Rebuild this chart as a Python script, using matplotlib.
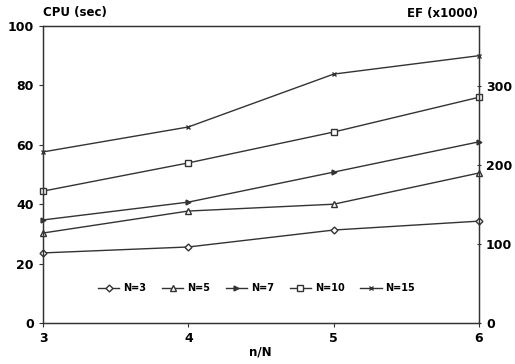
import numpy as np
import matplotlib
matplotlib.use('Agg')
import matplotlib.pyplot as plt

# data (left axis: CPU sec)
n_over_N = [3, 4, 5, 6]
cpu_N3 = [23.6, 25.6, 31.3, 34.3]
cpu_N5 = [30.3, 37.7, 40.0, 50.5]
cpu_N7 = [34.7, 40.7, 50.8, 61.0]
cpu_N10 = [44.4, 53.9, 64.3, 76.0]
cpu_N15 = [57.6, 66.0, 83.8, 90.0]
labels = ['N=3', 'N=5', 'N=7', 'N=10', 'N=15']

plt.rcParams['font.family'] = ['DejaVu Sans']
plt.rcParams['font.weight'] = 'bold'

fig = plt.figure(figsize=(5.15, 3.64), dpi=100)
ax = fig.add_axes([0.0835, 0.1126, 0.8465, 0.816])

col = '#333333'
styles = [
    dict(marker='D', markersize=3.5, mfc='white'),
    dict(marker='^', markersize=4.5, mfc='white'),
    dict(marker='>', markersize=3.5, mfc=col),
    dict(marker='s', markersize=4.5, mfc='white'),
    dict(marker='x', markersize=3.5),
]
series = [cpu_N3, cpu_N5, cpu_N7, cpu_N10, cpu_N15]
for vals, lab, st in zip(series, labels, styles):
    ax.plot(n_over_N, vals, color=col, lw=1.0, mec=col, label=lab, clip_on=False, **st)

ax.set_xlim(3, 6)
ax.set_ylim(0, 100)
ax.set_xticks([3, 4, 5, 6])
ax.set_yticks([0, 20, 40, 60, 80, 100])
ax.tick_params(labelsize=9, length=3, color=col)
for s in ax.spines.values():
    s.set_color(col)
    s.set_linewidth(1.0)

ax2 = ax.twinx()
ax2.set_ylim(0, 376)
ax2.set_yticks([0, 100, 200, 300])
ax2.tick_params(labelsize=9, length=3, direction='inout', color=col)
for s in ax2.spines.values():
    s.set_color(col)

fig.text(0.0835, 0.948, 'CPU (sec)', fontsize=8.5, fontweight='bold', ha='left', va='bottom')
fig.text(0.928, 0.945, 'EF (x1000)', fontsize=8.5, fontweight='bold', ha='right', va='bottom')
fig.text(0.505, 0.033, 'n/N', fontsize=8.5, fontweight='bold', ha='center', va='center')

ax.legend(loc='lower center', bbox_to_anchor=(0.49, 0.07), ncol=5, frameon=False,
          fontsize=7, handlelength=2.2, columnspacing=1.6, handletextpad=0.4)

fig.savefig('out.png', dpi=100)
